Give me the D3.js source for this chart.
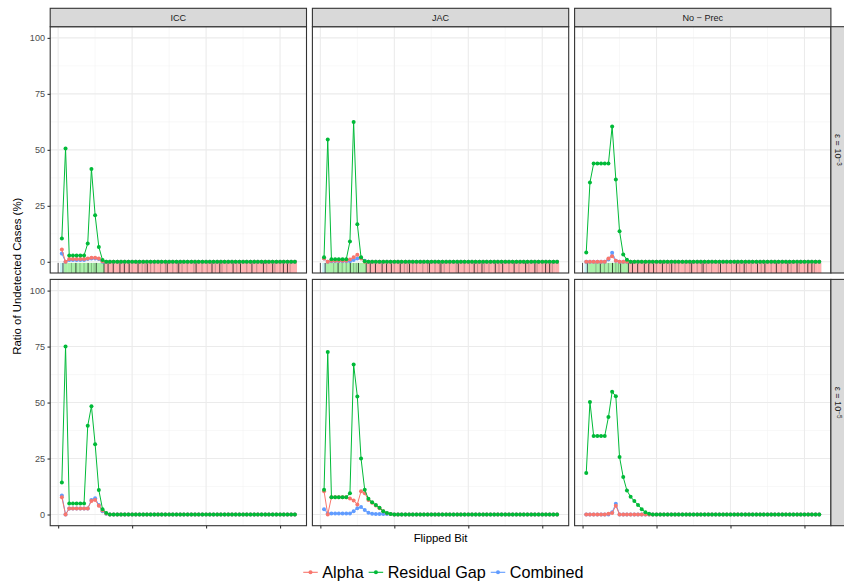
<!DOCTYPE html>
<html><head><meta charset="utf-8">
<script src="https://cdn.jsdelivr.net/npm/d3@7"></script>
<style>body{margin:0;background:#fff} svg text{font-family:"Liberation Sans",Arial,Helvetica,sans-serif}</style>
</head><body><svg id="chart" width="844" height="585"></svg>
<script>
// ---------------- data ----------------
const methods = ["ICC", "JAC", "No \u2212 Prec"];
const epsExp = ["\u22123", "\u22125"];
const seriesNames = ["Alpha", "Residual Gap", "Combined"];
const seriesColors = ["#F8766D", "#00BA38", "#619CFF"];
const yTicks = [0, 25, 50, 75, 100];
const xTicks = [0, 20, 40, 60];
const xMinorTicks = [10, 30, 50];
const yMinorTicks = [12.5, 37.5, 62.5, 87.5];
const nBits = 64;

// leading values per bit (1..), remaining bits are 0
const iccTopAlpha    = [5.5, 0, 1.2, 1.2, 1.2, 1.2, 1.2, 1.5, 1.8, 1.8, 1.5, 0.3];
const iccTopResidual = [10.4, 50.6, 2.8, 2.8, 2.8, 2.8, 2.8, 8.2, 41.5, 20.8, 6.6, 0.8];
const iccTopCombined = [3.7, 0, 0.8, 0.8, 0.8, 0.8, 0.8, 1.2, 1.5, 1.5, 1.2, 0];

const jacTopAlpha    = [1.5, 0, 0.5, 0.5, 0.5, 0.5, 0.5, 1.0, 2.0, 3.2, 1.5, 0];
const jacTopResidual = [2.0, 54.6, 1.1, 1.1, 1.1, 1.1, 1.1, 9.1, 62.4, 16.8, 2.0, 0.3];
const jacTopCombined = [1.5, 0, 0.3, 0.3, 0.3, 0.3, 0.3, 0.3, 0.8, 1.5, 1.8, 0.5];

const npTopAlpha     = [0, 0, 0, 0, 0, 0, 1.5, 2.5, 0.5, 0, 0, 0];
const npTopResidual  = [4.2, 35.4, 43.9, 43.9, 43.9, 43.9, 43.9, 60.4, 36.8, 13.7, 3.3, 0.9];
const npTopCombined  = [0, 0, 0, 0, 0, 0, 1.0, 4.0, 0.5, 0, 0, 0];

const iccBotAlpha    = [7.7, 0, 2.7, 2.7, 2.7, 2.7, 2.7, 2.7, 6.0, 6.5, 3.9, 1.8, 0.5];
const iccBotResidual = [14.3, 75.0, 4.9, 4.9, 4.9, 4.9, 4.9, 39.6, 48.4, 31.4, 10.9, 2.4, 0.7];
const iccBotCombined = [8.5, 0, 2.7, 2.7, 2.7, 2.7, 2.7, 2.7, 6.5, 7.3, 4.2, 1.5, 0.3];

const jacBotAlpha    = [10.4, 0, 7.7, 7.7, 7.7, 7.7, 7.7, 7.1, 6.3, 4.5, 10.4, 9.5, 6.5, 5.2, 4.0, 2.8, 1.4, 0.6, 0.2];
const jacBotResidual = [11.0, 72.6, 7.7, 7.7, 7.7, 7.7, 7.7, 9.5, 67.0, 52.7, 25.0, 11.0, 7.0, 5.5, 4.2, 3.0, 1.5, 0.7, 0.2];
const jacBotCombined = [2.4, 0.5, 0.5, 0.5, 0.5, 0.5, 0.5, 0.5, 1.5, 2.8, 3.3, 2.0, 0.8, 0.3, 0.2, 0.2, 0.2, 0.2, 0.2];

const npBotAlpha     = [0, 0, 0, 0, 0, 0, 0.3, 0.7, 3.9, 0, 0, 0];
const npBotResidual  = [18.5, 50.3, 35.1, 35.1, 35.1, 35.1, 43.5, 54.8, 52.8, 25.7, 16.7, 10.7, 7.9, 6.0, 4.3, 2.4, 1.0, 0.3];
const npBotCombined  = [0, 0, 0, 0, 0, 0, 0, 1.0, 4.8, 0, 0, 0];

// bit-field bands shown under the top row
const signBits = [1];
const exponentBits = [2, 3, 4, 5, 6, 7, 8, 9, 10, 11, 12];
const mantissaFirst = 13;
const bandColors = {sign: "#c6f3f3", exponent: "#a8f0a8", mantissa: "#ffb2b2"};
const rugDark = [0, 1.3, 4.8, 8.1, 10.3, 12.4, 13.5, 14.9, 16.7, 17.9, 19.2, 21.6, 24.1, 29.5, 32.6, 37.3, 41.6, 43.7, 47.3, 49.3, 52.4, 55.5, 58.0, 60.9, 62.0];
const rugLight = [3.6, 5.9, 7.0, 9.0, 9.7, 20, 22.7, 23.5, 25, 26, 27.7, 29, 31, 32.2, 33.5, 34.9, 36.7, 38.9, 40.3, 42.5, 44.3, 45.6, 48.3, 51, 53.7, 56.4, 58.6, 60, 62.7];

// ---------------- layout ----------------
const pad = a => a.concat(new Array(nBits - a.length).fill(0));
const panels = [
  [ [iccTopAlpha, iccTopResidual, iccTopCombined], [jacTopAlpha, jacTopResidual, jacTopCombined], [npTopAlpha, npTopResidual, npTopCombined] ],
  [ [iccBotAlpha, iccBotResidual, iccBotCombined], [jacBotAlpha, jacBotResidual, jacBotCombined], [npBotAlpha, npBotResidual, npBotCombined] ]
];
const bitsArr = d3.range(1, nBits + 1);

const svg = d3.select("#chart");
const pLeft = [50.2, 312.4, 574.6], pW = 256.3;
const pTop = [26.7, 279.4], pH = 246.3;
const stripTop = 8.3, stripH = 18.4;

const x = d3.scaleLinear().domain([1 - 3.15, nBits + 3.15]).range([0, pW]);
const y = d3.scaleLinear().domain([-5, 105]).range([pH, 0]);

const drawOrder = [2, 0, 1]; // Combined, Alpha, Residual Gap (green on top)

for (let r = 0; r < 2; r++) {
  for (let c = 0; c < 3; c++) {
    const g = svg.append("g").attr("transform", `translate(${pLeft[c]},${pTop[r]})`);
    const clipId = `clip${r}${c}`;
    g.append("clipPath").attr("id", clipId).append("rect").attr("width", pW).attr("height", pH);
    g.append("rect").attr("width", pW).attr("height", pH).attr("fill", "#fff");
    const grid = g.append("g");
    grid.selectAll(".ymin").data(yMinorTicks).join("line")
      .attr("x1", 0).attr("x2", pW).attr("y1", d => y(d)).attr("y2", d => y(d))
      .attr("stroke", "#f2f2f2").attr("stroke-width", 0.55);
    grid.selectAll(".xmin").data(xMinorTicks).join("line")
      .attr("y1", 0).attr("y2", pH).attr("x1", d => x(d)).attr("x2", d => x(d))
      .attr("stroke", "#f2f2f2").attr("stroke-width", 0.55);
    grid.selectAll(".ymaj").data(yTicks).join("line")
      .attr("x1", 0).attr("x2", pW).attr("y1", d => y(d)).attr("y2", d => y(d))
      .attr("stroke", "#ebebeb").attr("stroke-width", 1.1);
    grid.selectAll(".xmaj").data(xTicks).join("line")
      .attr("y1", 0).attr("y2", pH).attr("x1", d => x(d)).attr("x2", d => x(d))
      .attr("stroke", "#ebebeb").attr("stroke-width", 1.1);

    const body = g.append("g").attr("clip-path", `url(#${clipId})`);
    if (r === 0) {
      const band = body.append("g");
      const tiles = [];
      signBits.forEach(b => tiles.push({b, col: bandColors.sign}));
      exponentBits.forEach(b => tiles.push({b, col: bandColors.exponent}));
      d3.range(mantissaFirst, nBits + 1).forEach(b => tiles.push({b, col: bandColors.mantissa}));
      band.selectAll("rect").data(tiles).join("rect")
        .attr("x", d => x(d.b - 0.5)).attr("width", x(1) - x(0) + 0.3)
        .attr("y", y(-0.5)).attr("height", y(-5) - y(-0.5))
        .attr("fill", d => d.col);
      band.selectAll(".rl").data(rugLight).join("line")
        .attr("x1", d => x(d)).attr("x2", d => x(d)).attr("y1", y(-0.5)).attr("y2", y(-5))
        .attr("stroke", "#000").attr("stroke-opacity", 0.3).attr("stroke-width", 0.8);
      band.selectAll(".rd").data(rugDark).join("line")
        .attr("x1", d => x(d)).attr("x2", d => x(d)).attr("y1", y(-0.5)).attr("y2", y(-5))
        .attr("stroke", "#000").attr("stroke-opacity", 0.85).attr("stroke-width", 0.8);
    }
    const line = d3.line().x((d, i) => x(bitsArr[i])).y(d => y(d));
    drawOrder.forEach(s => {
      const vals = pad(panels[r][c][s]);
      body.append("path").datum(vals).attr("d", line)
        .attr("fill", "none").attr("stroke", seriesColors[s]).attr("stroke-width", 1);
      body.append("g").selectAll("circle").data(vals).join("circle")
        .attr("cx", (d, i) => x(bitsArr[i])).attr("cy", d => y(d)).attr("r", 2)
        .attr("fill", seriesColors[s]);
    });
    g.append("rect").attr("width", pW).attr("height", pH).attr("fill", "none")
      .attr("stroke", "#333333").attr("stroke-width", 1.1);

    if (c === 0) {
      const ax = g.append("g").call(d3.axisLeft(y).tickValues(yTicks).tickSize(2.7).tickPadding(2.5).tickFormat(d3.format("d")));
      ax.select(".domain").remove();
      ax.selectAll("line").attr("stroke", "#333333").attr("stroke-width", 1.1);
      ax.selectAll("text").attr("fill", "#4d4d4d").style("font-size", "9.1px");
    }
    if (r === 1) {
      const ax = g.append("g").attr("transform", `translate(0,${pH})`)
        .call(d3.axisBottom(x).tickValues(xTicks).tickSize(2.7).tickFormat(""));
      ax.select(".domain").remove();
      ax.selectAll("line").attr("stroke", "#333333").attr("stroke-width", 1.1);
    }
    if (r === 0) {
      svg.append("rect").attr("x", pLeft[c]).attr("y", stripTop).attr("width", pW).attr("height", stripH)
        .attr("fill", "#d9d9d9").attr("stroke", "#333333").attr("stroke-width", 1.1);
      svg.append("text").attr("x", pLeft[c] + pW / 2).attr("y", stripTop + stripH / 2)
        .attr("text-anchor", "middle").attr("dominant-baseline", "central")
        .attr("fill", "#1a1a1a").style("font-size", "9.1px").text(methods[c]);
    }
  }
  // right strip
  const sx = pLeft[2] + pW;
  svg.append("rect").attr("x", sx).attr("y", pTop[r]).attr("width", stripH).attr("height", pH)
    .attr("fill", "#d9d9d9").attr("stroke", "#333333").attr("stroke-width", 1.1);
  const t = svg.append("text")
    .attr("transform", `translate(${sx + 7},${pTop[r] + pH / 2}) rotate(90)`)
    .attr("text-anchor", "middle").attr("dominant-baseline", "central")
    .attr("fill", "#1a1a1a").style("font-size", "9.1px");
  t.append("tspan").text("\u03b5 = 10");
  t.append("tspan").attr("dy", -2.5).style("font-size", "6.3px").text(epsExp[r]);
}

// axis titles
svg.append("text").attr("x", (pLeft[0] + pLeft[2] + pW) / 2).attr("y", 538)
  .attr("text-anchor", "middle").attr("dominant-baseline", "central")
  .attr("fill", "#000").style("font-size", "11.4px").text("Flipped Bit");
svg.append("text").attr("transform", `translate(17,${(pTop[0] + pTop[1] + pH) / 2}) rotate(-90)`)
  .attr("text-anchor", "middle").attr("dominant-baseline", "central")
  .attr("fill", "#000").style("font-size", "11.4px").text("Ratio of Undetected Cases (%)");

// legend
const leg = svg.append("g");
const keyW = 14.5, gapKT = 4.5, gapItem = 5;
let cx = 0;
seriesNames.forEach((n, i) => {
  const gi = leg.append("g");
  gi.append("line").attr("x1", cx).attr("x2", cx + keyW).attr("y1", 0).attr("y2", 0)
    .attr("stroke", seriesColors[i]).attr("stroke-width", 1.1);
  gi.append("circle").attr("cx", cx + keyW / 2).attr("cy", 0).attr("r", 2).attr("fill", seriesColors[i]);
  const tx = gi.append("text").attr("x", cx + keyW + gapKT).attr("y", 0).attr("dominant-baseline", "central")
    .style("font-size", "16.2px").attr("fill", "#000").text(n);
  cx += keyW + gapKT + tx.node().getComputedTextLength() + gapItem;
});
const totalW = cx - gapItem;
leg.attr("transform", `translate(${443.4 - totalW / 2},572.3)`);
</script></body></html>
